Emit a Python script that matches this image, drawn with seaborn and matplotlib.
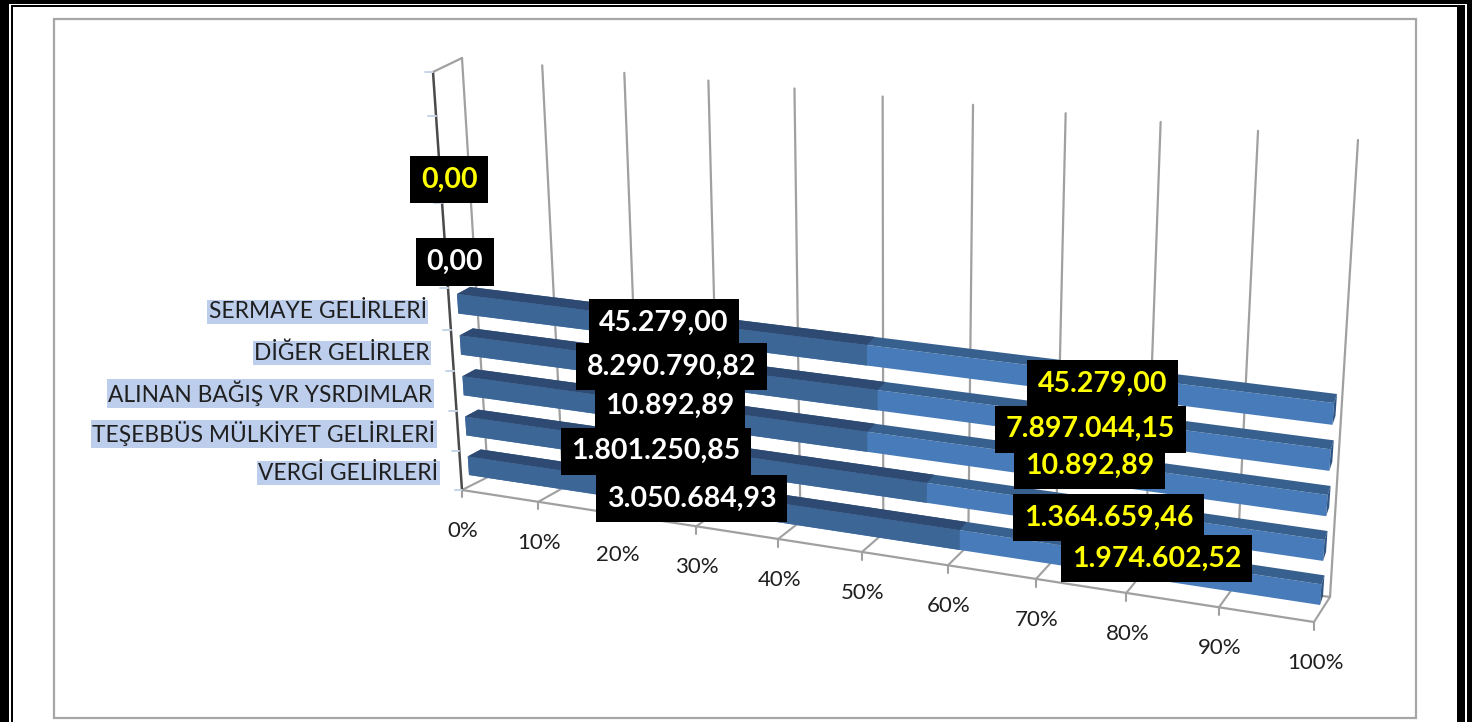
import numpy as np
import pandas as pd
import seaborn as sns
import matplotlib
matplotlib.use("Agg")
import matplotlib.pyplot as plt
from matplotlib.patches import Rectangle
from matplotlib.transforms import Transform, Affine2D

# ---- data -------------------------------------------------------------
kategoriler = ["-1", "-2", "-3", "-4", "-5",
               "SERMAYE GELİRLERİ", "DİĞER GELİRLER", "ALINAN BAĞIŞ VR YSRDIMLAR",
               "TEŞEBBÜS MÜLKİYET GELİRLERİ", "VERGİ GELİRLERİ"]
seri_koyu = [np.nan, np.nan, np.nan, np.nan, 0.00,
             45279.00, 8290790.82, 10892.89, 1801250.85, 3050684.93]
seri_acik = [np.nan, np.nan, 0.00, np.nan, np.nan,
             45279.00, 7897044.15, 10892.89, 1364659.46, 1974602.52]
yuzde_etiketleri = [0, 10, 20, 30, 40, 50, 60, 70, 80, 90, 100]

# label nudges in pixels (layout only)
kaydir_koyu = {4: (0, 0), 5: (8, 6), 6: (9, 5), 7: (11, 7), 8: (-32, 7), 9: (-13, 3)}
kaydir_acik = {2: (0, -3), 5: (10, 0), 6: (-6, 0), 7: (0, 7), 8: (-11, 3), 9: (21, 8)}

# ---- colours ----------------------------------------------------------
KOYU_ON, KOYU_UST = "#3C6696", "#2E4A72"
ACIK_ON, ACIK_UST = "#477BB9", "#38608F"
UC = "#2F5585"
GRI = "#A0A0A0"
YAZI = "#1F1F1F"
W, HH = 1472, 722

sns.set_theme(style="white")
plt.rcParams["font.family"] = ["Lato", "DejaVu Sans"]


class Projective(Transform):
    """Perspective mapping from chart coordinates to image pixels."""
    input_dims = output_dims = 2
    has_inverse = False

    def __init__(self, src, dst):
        super().__init__()
        A, b = [], []
        for (x, y), (u, v) in zip(src, dst):
            v = HH - v
            A.append([x, y, 1, 0, 0, 0, -u * x, -u * y]); b.append(u)
            A.append([0, 0, 0, x, y, 1, -v * x, -v * y]); b.append(v)
        self.m = np.append(np.linalg.solve(np.array(A, float), np.array(b, float)), 1).reshape(3, 3)

    def transform_non_affine(self, values):
        values = np.asarray(values, float)
        p = np.c_[values, np.ones(len(values))] @ self.m.T
        return p[:, :2] / p[:, 2:]


class Blend(Transform):
    """(t, d): straight line between the point t on edge A (d=0) and on edge B (d=1)."""
    input_dims = output_dims = 2
    has_inverse = False

    def __init__(self, a, b):
        super().__init__()
        self.a, self.b = a, b

    def transform_non_affine(self, values):
        values = np.asarray(values, float)
        base = np.c_[values[:, 0], np.zeros(len(values))]
        d = values[:, 1:2]
        return self.a.transform_non_affine(base) * (1 - d) + self.b.transform_non_affine(base) * d


class Strip(Transform):
    """Top face of a 3-D bar: front edge lies on `base`, depth shifts it backwards."""
    input_dims = output_dims = 2
    has_inverse = False

    def __init__(self, base, top, derin, off0, off1):
        super().__init__()
        self.base, self.top, self.derin = base, top, derin
        self.off0, self.off1 = np.array(off0, float), np.array(off1, float)

    def transform_non_affine(self, values):
        values = np.asarray(values, float)
        front = self.base.transform_non_affine(np.c_[values[:, 0], np.full(len(values), self.top)])
        d = (self.top - values[:, 1]) / self.derin
        s = values[:, 0] / 100
        off = self.off0[None] + (self.off1 - self.off0)[None] * s[:, None]
        return front + off * d[:, None]


class Cap(Transform):
    """Right-hand end face of a 3-D bar."""
    input_dims = output_dims = 2
    has_inverse = False

    def __init__(self, base, off):
        super().__init__()
        self.base, self.off = base, np.array(off, float)

    def transform_non_affine(self, values):
        values = np.asarray(values, float)
        front = self.base.transform_non_affine(np.c_[np.full(len(values), 100.0), values[:, 1]])
        return front + self.off[None] * values[:, 0:1]


def kenar(p0, p1, k=1.13):
    """Edge from 0 % to 100 % with the picture's foreshortening; second coordinate = pixels up / 400."""
    return Projective([(0, 0), (100, 0), (0, 1), (100, 1)],
                      [p0, p1, (p0[0], p0[1] - 400), (p1[0], p1[1] - 400 * k)])


# ---- perspective planes -------------------------------------------------
BAR_H = 0.47
R0, R1 = 5 - BAR_H / 2, 9 + BAR_H / 2
T_bar = Projective([(0, R0), (100, R0), (0, R1), (100, R1)],
                   [(457, 294), (1334, 403), (469, 475), (1320, 605)])
E_on = kenar((462, 490), (1314, 622))
E_arka = kenar((488, 477), (1330, 597))
E_ust = kenar((462, 58), (1358, 140))
T_wall = Blend(E_arka, E_ust)
T_floor = Blend(E_on, E_arka)
T_side = Projective([(0, 0), (10, 0), (0, 1), (10, 1)],
                    [(433, 72), (462, 490), (333, 72), (368.6, 490)])

# ---- figure -------------------------------------------------------------
fig = plt.figure(figsize=(W / 100, HH / 100), dpi=100)
ax = fig.add_axes([0, 0, 1, 1])
ax.axis("off")

PX = Affine2D().scale(1, -1).translate(0, HH)
def kutu(x0, y0, x1, y1, **kw):
    fig.add_artist(Rectangle((x0, y0), x1 - x0, y1 - y0, transform=PX, zorder=-5, **kw))
kutu(0, 0, W, HH + 5, fc="black", ec="none")
kutu(9, 4, 1467, HH + 5, fc="white", ec="none")
kutu(11, 5, 1465, HH + 5, fc="black", ec="none")
kutu(13, 7, 1457, HH + 5, fc="white", ec="none")
kutu(53.5, 18.5, 1415.5, 717.5, fc="none", ec="#A6A6A6", lw=1.6)

# ---- walls and floor -----------------------------------------------------
for t in yuzde_etiketleri:
    ax.plot([t, t], [0, 1], transform=T_wall, color=GRI, lw=1.6, zorder=1, clip_on=False)
    ax.plot([t, t], [0, 1], transform=T_floor, color=GRI, lw=1.5, zorder=1, clip_on=False)
    ax.plot([t, t], [-0.018, 0], transform=E_on, color=GRI, lw=1.5, zorder=1, clip_on=False)
    ax.text(t, 0, f"{t}%", transform=E_on + Affine2D().translate(1, -41),
            ha="center", va="center", fontsize=16, color=YAZI)
ax.plot([0, 100], [0, 0], transform=E_on, color=GRI, lw=1.6, zorder=1, clip_on=False)
ax.plot([0, 100], [0, 0], transform=E_arka, color=GRI, lw=1.6, zorder=1, clip_on=False)
ax.plot([433, 462], [HH - 72, HH - 58], transform=Affine2D(), color=GRI, lw=1.6, zorder=1, clip_on=False)
ax.plot([0, 10], [0, 0], transform=T_side, color="#4A4A4A", lw=1.8, zorder=2, clip_on=False)
for u in range(len(kategoriler) + 1):
    ax.plot([u, u], [0, 0.08], transform=T_side, color="#C6D4E8", lw=1.4, zorder=2, clip_on=False)

# ---- bars ----------------------------------------------------------------
koyu = np.nan_to_num(np.array(seri_koyu, float))
acik = np.nan_to_num(np.array(seri_acik, float))
toplam = koyu + acik
pay = np.divide(koyu, toplam, out=np.zeros_like(koyu), where=toplam > 0) * 100
dolu = np.where(toplam > 0, 100.0, 0.0)
df = pd.DataFrame({"kategori": kategoriler, "toplam": dolu, "pay": pay})

sns.barplot(data=df, y="kategori", x="toplam", order=kategoriler, color=ACIK_ON,
            saturation=1, width=BAR_H, linewidth=0, ax=ax, zorder=3)
sns.barplot(data=df, y="kategori", x="pay", order=kategoriler, color=KOYU_ON,
            saturation=1, width=BAR_H, linewidth=0, ax=ax, zorder=4)
ax.axis("off")
for p in list(ax.patches):
    p.set_transform(T_bar)
    p.set_clip_on(False)

DERIN = 0.15
for i in range(len(kategoriler)):
    if toplam[i] <= 0:
        continue
    ust = i - BAR_H / 2
    st = Strip(T_bar, ust, DERIN, (13, 7), (3, 9))
    ax.barh(ust - DERIN / 2, 100, height=DERIN, color=ACIK_UST, transform=st, zorder=3, clip_on=False, lw=0)
    ax.barh(ust - DERIN / 2, pay[i], height=DERIN, color=KOYU_UST, transform=st, zorder=4, clip_on=False, lw=0)
    ax.barh(i, 1, height=BAR_H, color=UC, transform=Cap(T_bar, (3, 9)), zorder=3, clip_on=False, lw=0)

# ---- labels ---------------------------------------------------------------
def bicim(v):
    return f"{v:,.2f}".replace(",", "#").replace(".", ",").replace("#", ".")

kutu_stil = dict(boxstyle="square,pad=0.37", fc="black", ec="none")
for i in range(len(kategoriler)):
    if not np.isnan(seri_koyu[i]):
        x = pay[i] / 2
        ax.text(x, i, bicim(seri_koyu[i]), transform=T_bar + Affine2D().translate(*kaydir_koyu[i]),
                ha="center", va="center", color="white",
                fontsize=20.5, fontweight="bold", bbox=kutu_stil, zorder=8)
    if not np.isnan(seri_acik[i]):
        x = (pay[i] + 100) / 2 if toplam[i] > 0 else 0
        ax.text(x, i, bicim(seri_acik[i]), transform=T_bar + Affine2D().translate(*kaydir_acik[i]),
                ha="center", va="center", color="yellow",
                fontsize=20.5, fontweight="bold", bbox=kutu_stil, zorder=8)

for i, ad in enumerate(kategoriler):
    if toplam[i] > 0:
        ax.text(i + 0.57, 0.24, ad, transform=T_side, ha="right", va="center", fontsize=16.4,
                color=YAZI, zorder=7,
                bbox=dict(boxstyle="square,pad=0.06", fc="#BDCEEC", ec="none"))

fig.savefig("out.png", dpi=100)
